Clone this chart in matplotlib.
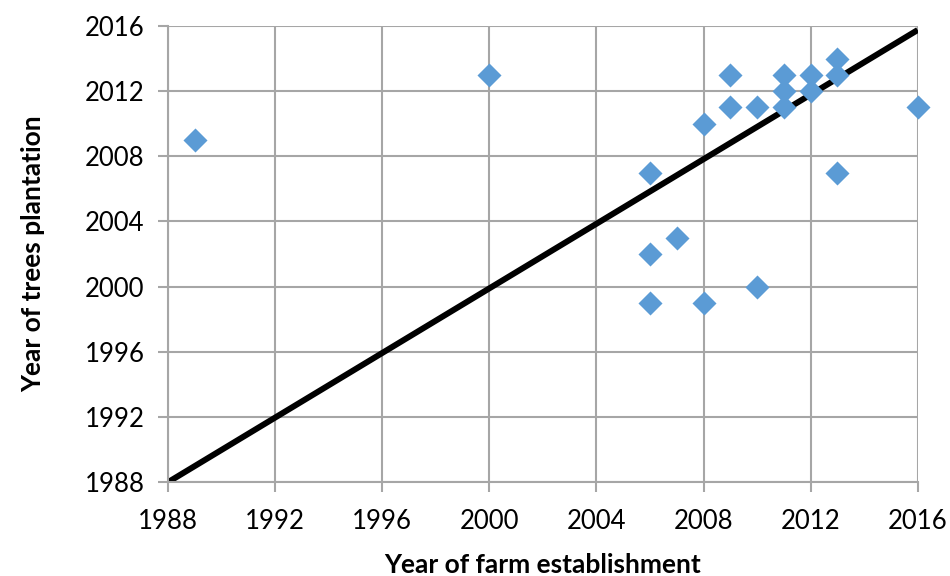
import matplotlib
matplotlib.use('Agg')
import matplotlib.pyplot as plt

plt.rcParams['font.family'] = ['Lato', 'DejaVu Sans']

# Dados
ano_fazenda = [1989, 2000, 2006, 2006, 2006, 2007, 2008, 2008, 2009, 2009,
               2010, 2010, 2011, 2011, 2011, 2012, 2012, 2013, 2013, 2013, 2016]
ano_plantio = [2009, 2013, 2007, 2002, 1999, 2003, 2010, 1999, 2013, 2011,
               2011, 2000, 2013, 2012, 2011, 2013, 2012, 2014, 2013, 2007, 2011]

linha_x = [1988, 2016]
linha_y = [1988, 2015.75]

ticks = [1988, 1992, 1996, 2000, 2004, 2008, 2012, 2016]

fig = plt.figure(figsize=(9.5, 5.76), dpi=100)
ax = fig.add_axes([0.177, 0.163, 0.789, 0.792])

ax.plot(linha_x, linha_y, color='black', linewidth=4.3, zorder=2, solid_capstyle='butt')
ax.scatter(ano_fazenda, ano_plantio, marker='D', s=150, color='#5b9bd5', zorder=3,
           linewidths=0, clip_on=False)

ax.set_xlim(1988, 2016)
ax.set_ylim(1988, 2016)
ax.set_xticks(ticks)
ax.set_yticks(ticks)
ax.grid(True, color='#a6a6a6', linewidth=1.5)
ax.set_axisbelow(True)

for s in ['top', 'right']:
    ax.spines[s].set_visible(False)
for s in ['left', 'bottom']:
    ax.spines[s].set_color('#a6a6a6')
    ax.spines[s].set_linewidth(1.5)

ax.tick_params(axis='both', colors='#a6a6a6', labelcolor='black', labelsize=18.5,
               length=7, width=1.5, direction='out')
ax.tick_params(axis='x', pad=12)
ax.tick_params(axis='y', pad=10)

ax.set_xlabel('Year of farm establishment', fontsize=19, fontweight='bold', labelpad=14)
ax.set_ylabel('Year of trees plantation', fontsize=19, fontweight='bold', labelpad=28)

plt.savefig('out.png', dpi=100)
